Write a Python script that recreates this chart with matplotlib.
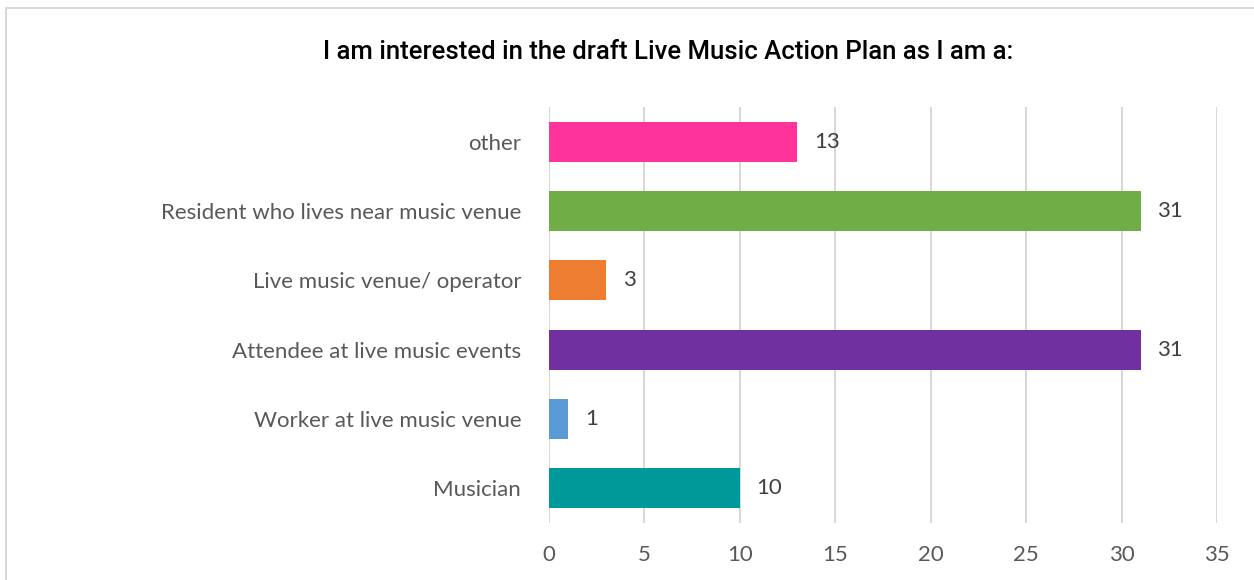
import matplotlib
matplotlib.use("Agg")
import matplotlib.pyplot as plt
from matplotlib.patches import Rectangle
from matplotlib import font_manager

categories = ["Musician", "Worker at live music venue", "Attendee at live music events",
              "Live music venue/ operator", "Resident who lives near music venue", "other"]
values = [10, 1, 31, 3, 31, 13]
colors = ["#009999", "#5B9BD5", "#7030A0", "#ED7D31", "#70AD47", "#FF3399"]
xticks = [0, 5, 10, 15, 20, 25, 30, 35]
title = "I am interested in the draft Live Music Action Plan as I am a:"

names = {f.name for f in font_manager.fontManager.ttflist}
title_font = "Roboto" if "Roboto" in names else "DejaVu Sans"
label_font = "Lato" if "Lato" in names else "DejaVu Sans"

W, H = 1254, 580
fig = plt.figure(figsize=(W / 100, H / 100), dpi=100)
fig.patch.set_facecolor("white")
fig.patches.append(Rectangle((6 / W, -0.01), 1.1, 1 - 8 / H + 0.01, transform=fig.transFigure,
                             fill=False, edgecolor="#D9D9D9", linewidth=1.5))

ax = fig.add_axes([549 / W, 1 - 522.6 / H, (1217 - 549) / W, (522.6 - 107.4) / H])
y = range(len(categories))
ax.barh(y, values, height=0.58, color=colors, zorder=3)
ax.set_xlim(0, 35)
ax.set_ylim(-0.5, len(categories) - 0.5)
ax.set_xticks(xticks)
ax.set_xticklabels([str(t) for t in xticks])
ax.set_yticks(list(y))
ax.set_yticklabels(categories)
ax.grid(axis="x", color="#D9D9D9", linewidth=1.5, zorder=0)
for s in ax.spines.values():
    s.set_visible(False)
ax.tick_params(axis="both", length=0, colors="#595959", labelsize=16)
ax.tick_params(axis="x", pad=16)
ax.tick_params(axis="y", pad=20)
for lab in ax.get_xticklabels() + ax.get_yticklabels():
    lab.set_fontfamily(label_font)
for i, v in enumerate(values):
    ax.annotate(str(v), (v, i), xytext=(12, 0), textcoords="offset points",
                va="center", ha="left", fontsize=16, color="#404040", family=label_font)

fig.text(668 / W, 1 - 52 / H, title, ha="center", va="center", fontsize=18.5,
         family=title_font, fontweight="medium", color="black")

fig.savefig("out.png", dpi=100)
